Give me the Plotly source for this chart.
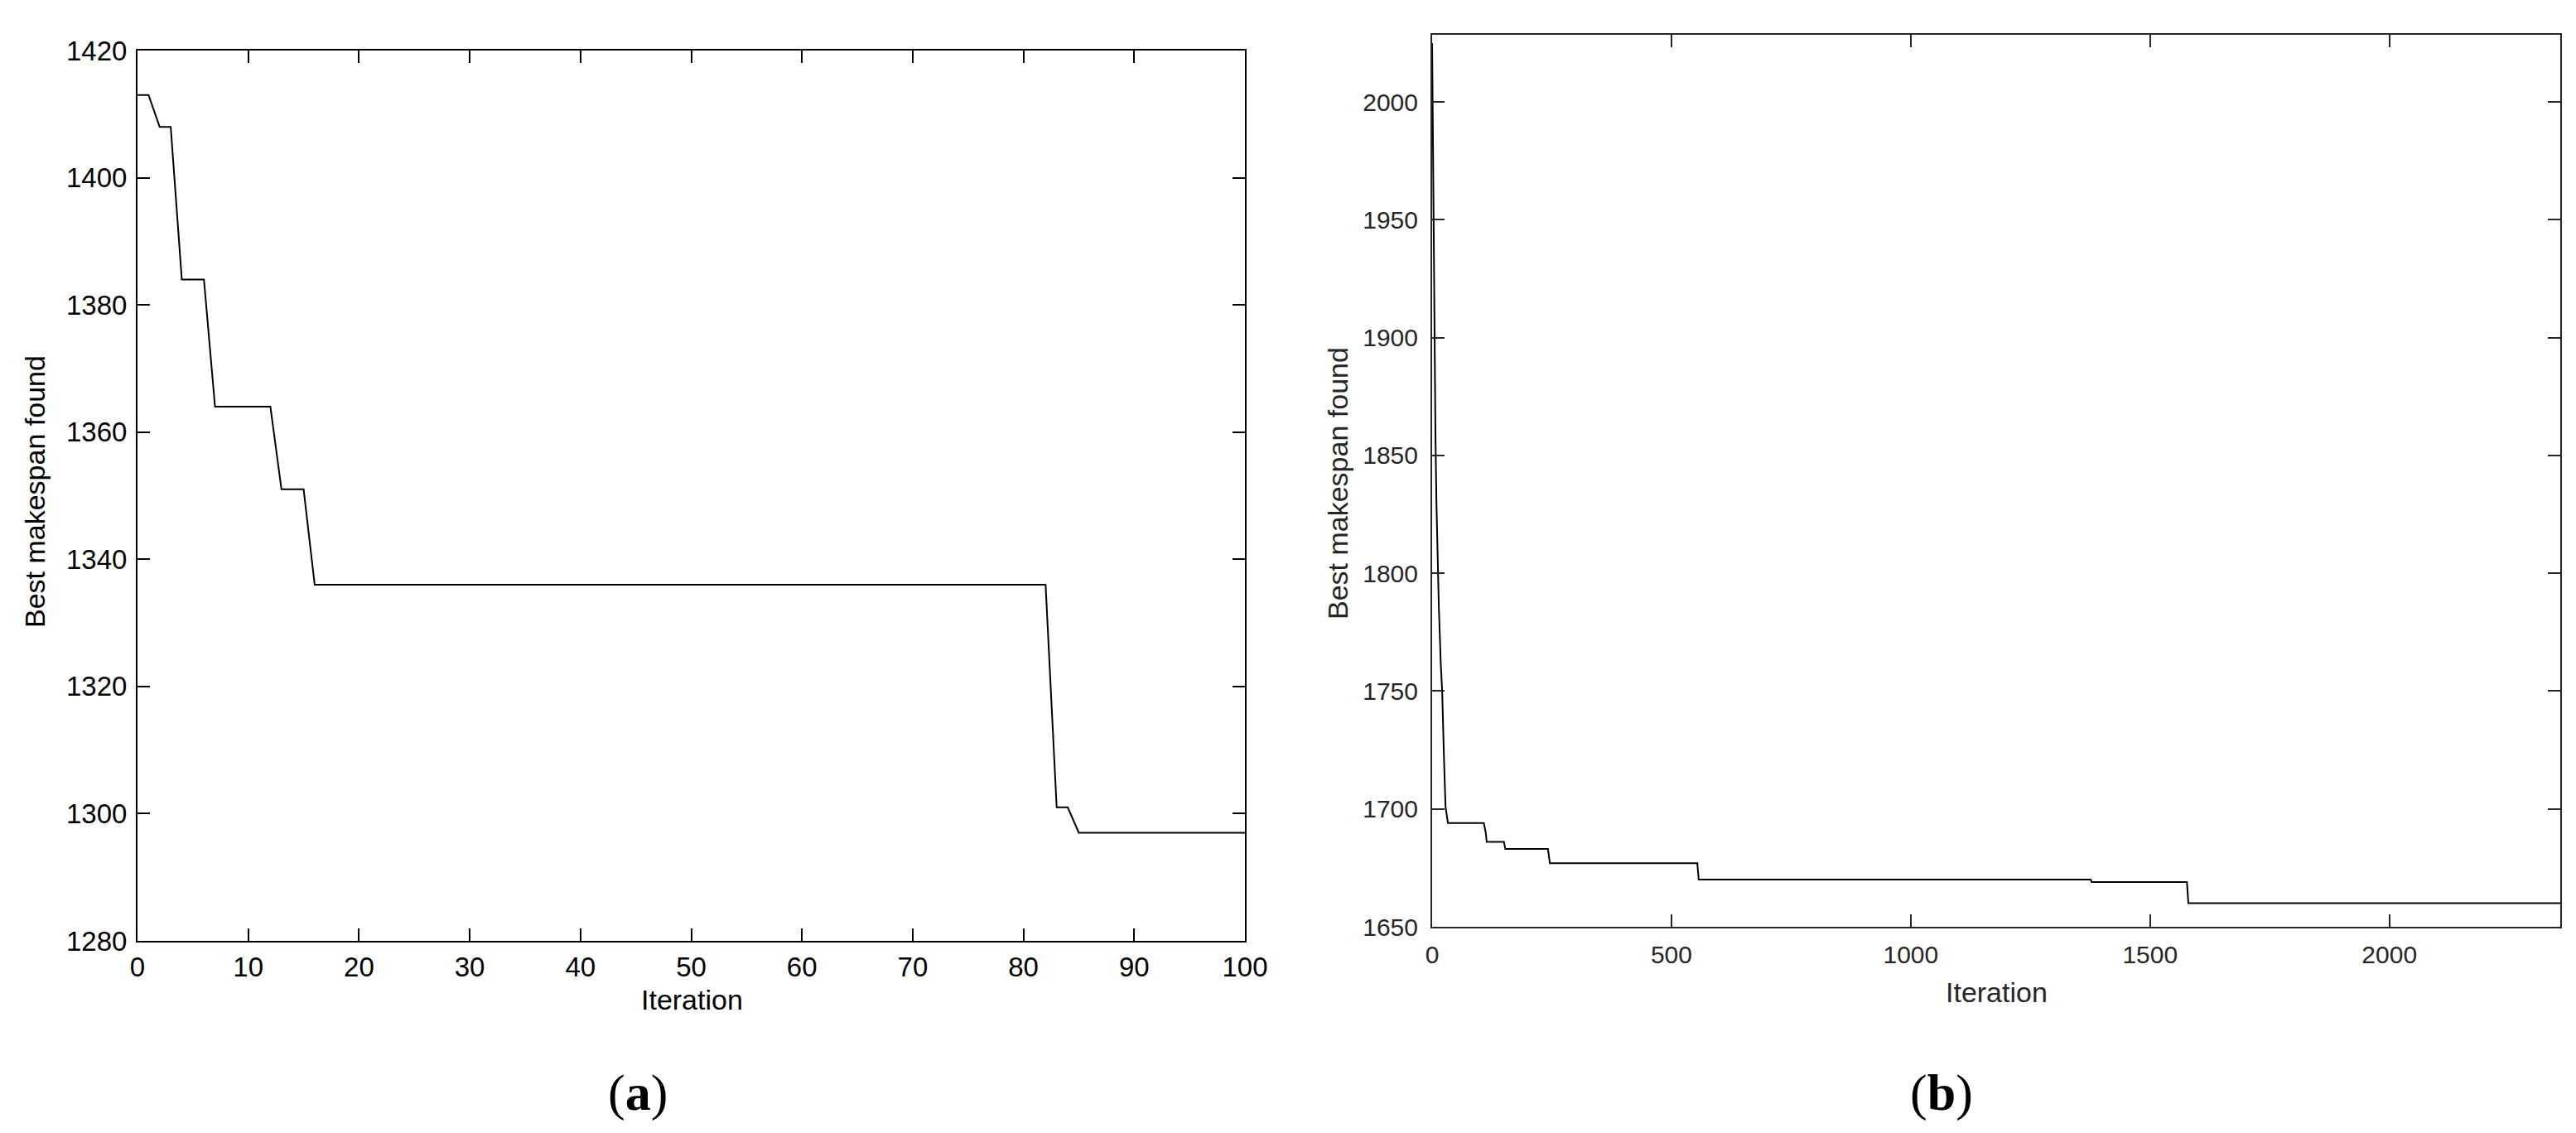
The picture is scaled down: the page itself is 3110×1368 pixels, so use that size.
import plotly.graph_objects as go

# ---------------- data ----------------
# Panel (a): best makespan found vs iteration (vertices of the step curve)
iter_a = [0, 1, 2, 3, 4, 6, 7, 12, 13, 15, 16, 82, 83, 84, 85, 100]
best_a = [1413, 1413, 1408, 1408, 1384, 1384, 1364, 1364, 1351, 1351,
          1336, 1336, 1301, 1301, 1297, 1297]

# Panel (b)
iter_b = [0, 2, 5, 7, 9, 12, 14, 18, 21, 25, 28, 33, 108, 112, 114, 150,
          153, 242, 246, 554, 557, 1376, 1378, 1577, 1580, 2357]
best_b = [2025, 1969, 1888, 1858, 1830, 1800, 1786, 1762, 1750, 1720, 1701,
          1694, 1694, 1690, 1686, 1686, 1683, 1683, 1677, 1677, 1670, 1670,
          1669, 1669, 1660, 1660]

xticks_a = [0, 10, 20, 30, 40, 50, 60, 70, 80, 90, 100]
yticks_a = [1280, 1300, 1320, 1340, 1360, 1380, 1400, 1420]
xticks_b = [0, 500, 1000, 1500, 2000]
yticks_b = [1650, 1700, 1750, 1800, 1850, 1900, 1950, 2000]

xlabel = "Iteration"
ylabel = "Best makespan found"
panel_labels = ["(<b>a</b>)", "(<b>b</b>)"]

# ---------------- layout geometry ----------------
W, H = 3110, 1368
def px(x):
    return x / W
def py(y):
    return 1 - y / H

fig = go.Figure()
fig.add_trace(go.Scatter(x=iter_a, y=best_a, mode="lines",
                         line=dict(color="#000000", width=2),
                         xaxis="x", yaxis="y", showlegend=False))
fig.add_trace(go.Scatter(x=iter_b, y=best_b, mode="lines",
                         line=dict(color="#000000", width=2),
                         xaxis="x2", yaxis="y2", showlegend=False))

sans = "Liberation Sans, Arial, sans-serif"
colA = "#000000"
colB = "#262626"

def axis_common(color, size):
    return dict(showgrid=False, zeroline=False, showline=True, linewidth=2,
                linecolor=color, mirror="ticks", ticks="inside", ticklen=15,
                tickwidth=2, tickcolor=color, automargin=False,
                tickfont=dict(family=sans, size=size, color=color))

fig.update_layout(
    width=W, height=H,
    margin=dict(l=0, r=0, t=0, b=0),
    paper_bgcolor="white", plot_bgcolor="white",
    xaxis=dict(domain=[px(158), px(1495)], range=[0, 100], tickvals=xticks_a,
               anchor="y", ticklabelstandoff=1, **axis_common(colA, 33)),
    yaxis=dict(domain=[py(1128), py(53)], range=[1280, 1420], tickvals=yticks_a,
               anchor="x", ticklabelstandoff=4, **axis_common(colA, 33)),
    xaxis2=dict(domain=[px(1721), px(3083)], range=[0, 2357], tickvals=xticks_b,
                anchor="y2", ticklabelstandoff=6, **axis_common(colB, 30)),
    yaxis2=dict(domain=[py(1111), py(34)], range=[1650, 2028.5], tickvals=yticks_b,
                anchor="x2", ticklabelstandoff=9, **axis_common(colB, 30)),
)

ann = []
# axis titles
ann.append(dict(x=px(827), y=py(1199), text=xlabel, showarrow=False,
                xref="paper", yref="paper", xanchor="center", yanchor="middle",
                font=dict(family=sans, size=34, color=colA)))
ann.append(dict(x=px(34), y=py(586), text=ylabel, showarrow=False, textangle=-90,
                xref="paper", yref="paper", xanchor="center", yanchor="middle",
                font=dict(family=sans, size=34, color=colA)))
ann.append(dict(x=px(2402), y=py(1190), text=xlabel, showarrow=False,
                xref="paper", yref="paper", xanchor="center", yanchor="middle",
                font=dict(family=sans, size=34, color=colB)))
ann.append(dict(x=px(1607), y=py(576), text=ylabel, showarrow=False, textangle=-90,
                xref="paper", yref="paper", xanchor="center", yanchor="middle",
                font=dict(family=sans, size=34, color=colB)))
# panel labels
ann.append(dict(x=px(762), y=py(1311), text=panel_labels[0], showarrow=False,
                xref="paper", yref="paper", xanchor="center", yanchor="middle",
                font=dict(family="Liberation Serif, Times New Roman, serif", size=62, color="#000000")))
ann.append(dict(x=px(2336), y=py(1311), text=panel_labels[1], showarrow=False,
                xref="paper", yref="paper", xanchor="center", yanchor="middle",
                font=dict(family="Liberation Serif, Times New Roman, serif", size=62, color="#000000")))
fig.update_layout(annotations=ann)

fig.write_html("out.html")
